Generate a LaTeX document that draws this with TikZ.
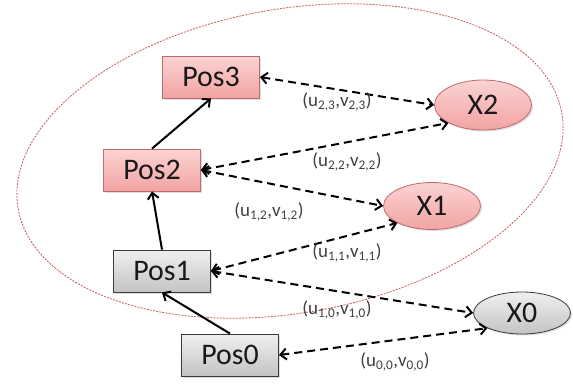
\documentclass[tikz,border=0pt]{standalone}
\usepackage{fontspec}
\setmainfont{Carlito}
\usetikzlibrary{arrows.meta,shapes.geometric,shadows}
\definecolor{pinkfillA}{HTML}{FBD3D3}
\definecolor{pinkfillB}{HTML}{F2A3A3}
\definecolor{pinkline}{HTML}{C06A6A}
\definecolor{greyfillA}{HTML}{EFEFEF}
\definecolor{greyfillB}{HTML}{C4C4C4}
\definecolor{greyline}{HTML}{3A3A3A}
\definecolor{labtext}{HTML}{404040}
\definecolor{ringred}{HTML}{C85A5A}
\begin{document}
\begin{tikzpicture}[x=1bp,y=-1bp,
  posbox/.style={rectangle,minimum width=97bp,minimum height=42bp,inner sep=0pt,font=\fontsize{30}{32}\selectfont,text=black!90,line width=0.8bp,drop shadow={opacity=0.25,shadow xshift=1.5bp,shadow yshift=-1.5bp}},
  pinkbox/.style={posbox,draw=pinkline,top color=pinkfillA,bottom color=pinkfillB},
  greybox/.style={posbox,draw=greyline,top color=greyfillA,bottom color=greyfillB},
  xnode/.style={ellipse,minimum width=97bp,inner sep=0pt,font=\fontsize{30}{32}\selectfont,text=black!90,line width=0.8bp,drop shadow={opacity=0.25,shadow xshift=1.5bp,shadow yshift=-1.5bp}},
  pinkx/.style={xnode,draw=pinkline,top color=pinkfillA,bottom color=pinkfillB},
  greyx/.style={xnode,draw=greyline,top color=greyfillA,bottom color=greyfillB},
  uvlab/.style={font=\fontsize{19}{21}\selectfont,text=labtext,inner sep=0pt},
  meas/.style={dash pattern=on 8bp off 5bp,line width=2bp,{Straight Barb[length=6bp,width=11bp]}-{Straight Barb[length=6bp,width=11bp]}},
  chain/.style={line width=2bp,-{Straight Barb[length=6bp,width=11bp]}},
  ring/.style={draw=ringred,line width=0.8bp,dash pattern=on 2bp off 1.2bp}
]
\useasboundingbox (0,0) rectangle (573,384);
\fill[white] (0,0) rectangle (573,384);
% big dashed ellipse
\draw[ring] (290,161) ellipse [x radius=276, y radius=152, rotate=10];
% nodes
\node[pinkbox] (p3) at (211,77) {Pos3};
\node[pinkbox] (p2) at (152,170) {Pos2};
\node[greybox] (p1) at (162,271) {Pos1};
\node[greybox] (p0) at (230,355) {Pos0};
\node[pinkx,minimum height=50bp] (x2) at (483,105) {X2};
\node[pinkx,minimum height=47bp] (x1) at (432,206) {X1};
\node[greyx,minimum height=42bp] (x0) at (522,313) {X0};
% chain arrows
\draw[chain] (p0.north) -- (p1.south);
\draw[chain] (p1.north) -- (p2.south);
\draw[chain] (p2.north) -- (p3.south);
% measurement arrows
\draw[meas] (p3.east) -- (x2.west);
\draw[meas] (p2.east) -- (x2.south west);
\draw[meas] (p2.east) -- (x1.west);
\draw[meas] (p1.east) -- (x1.south west);
\draw[meas] (p1.east) -- (x0.west);
\draw[meas] (p0.east) -- (x0.south west);
% labels
\node[uvlab] (l23) at (337,102) {(u\textsubscript{2,3},v\textsubscript{2,3})};
\node[uvlab] (l22) at (347,162) {(u\textsubscript{2,2},v\textsubscript{2,2})};
\node[uvlab] (l12) at (269,212) {(u\textsubscript{1,2},v\textsubscript{1,2})};
\node[uvlab] (l11) at (347,253) {(u\textsubscript{1,1},v\textsubscript{1,1})};
\node[uvlab] (l10) at (337,310) {(u\textsubscript{1,0},v\textsubscript{1,0})};
\node[uvlab] (l00) at (395,362) {(u\textsubscript{0,0},v\textsubscript{0,0})};
\end{tikzpicture}
\end{document}
